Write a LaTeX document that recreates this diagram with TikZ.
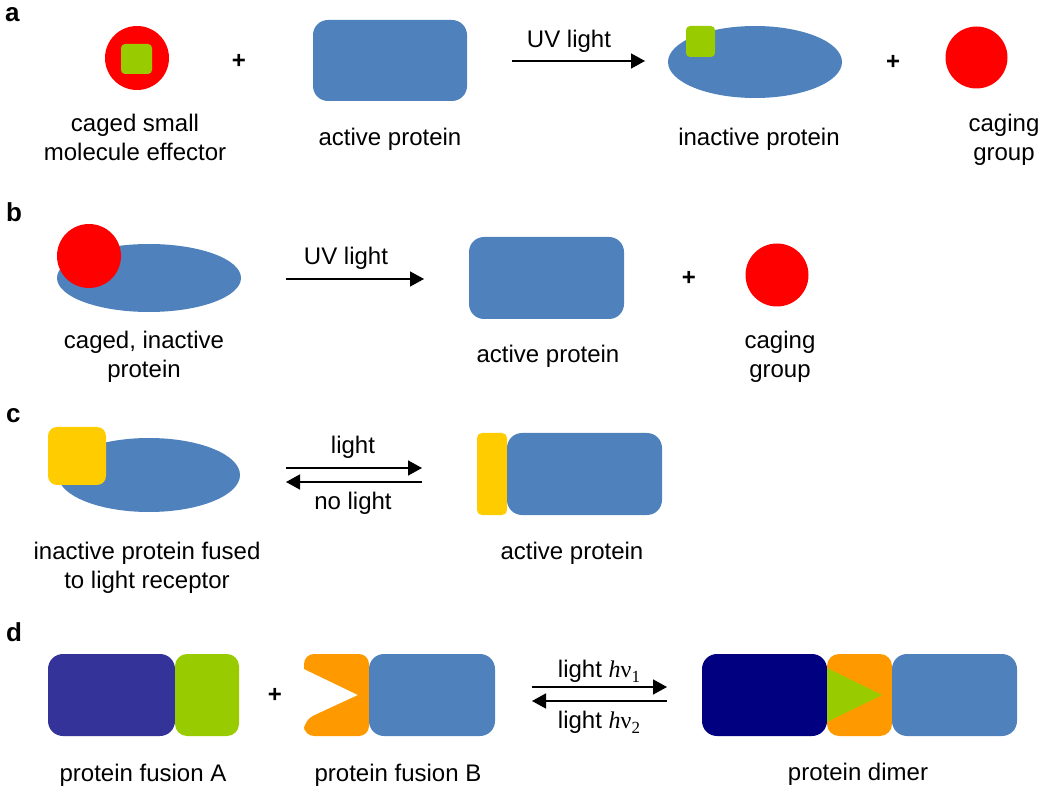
\documentclass[tikz,border=0pt]{standalone}
\usepackage{fontspec}
\setmainfont{Liberation Sans}
\newfontfamily\serifgr{Liberation Serif}
\usetikzlibrary{arrows.meta,shapes.geometric}
\definecolor{pblue}{HTML}{4F81BD}
\definecolor{cred}{HTML}{FF0000}
\definecolor{cgreen}{HTML}{99CC00}
\definecolor{cyellow}{HTML}{FFCC00}
\definecolor{corange}{HTML}{FF9900}
\definecolor{cpurple}{HTML}{333399}
\definecolor{cnavy}{HTML}{000080}
\newcommand{\hnu}[1]{{\serifgr\itshape h}{\serifgr ν}\raisebox{-5pt}{\fontsize{17}{17}\selectfont\serifgr #1}}
\begin{document}
\begin{tikzpicture}[x=1pt,y=-1pt,
  lbl/.style={font=\fontsize{24}{29}\selectfont, inner sep=0pt, align=center},
  plus/.style={font=\fontsize{24}{29}\selectfont\bfseries, inner sep=0pt},
  panel/.style={font=\fontsize{26}{30}\selectfont\bfseries, inner sep=0pt, anchor=base west},
  rbox/.style={inner sep=0pt, rounded corners=15pt},
  ell/.style={ellipse, inner sep=0pt},
  dot/.style={circle, inner sep=0pt},
  rxn/.style={line width=1.5pt, -{Triangle[length=14pt,width=15pt]}}
]
\useasboundingbox (0,0) rectangle (1050,791);

% ---------------- panel a ----------------
\node[panel] (la) at (5,22) {a};
\node[dot, fill=cred, minimum size=64pt] (a1) at (137,58) {};
\node[rbox, rounded corners=4pt, fill=cgreen, minimum width=31pt, minimum height=30pt] (a1g) at (136.5,59) {};
\node[plus] (ap1) at (239,61) {+};
\node[rbox, fill=pblue, minimum width=154pt, minimum height=81pt] (a2) at (390,60.5) {};
\coordinate (as) at (512,61);
\coordinate (ae) at (645,61);
\draw[rxn] (as) -- (ae);
\node[lbl, anchor=base] (auv) at (569,48) {UV light};
\node[ell, fill=pblue, minimum width=174pt, minimum height=72pt] (a3) at (755,62) {};
\node[rbox, rounded corners=4pt, fill=cgreen, minimum width=29pt, minimum height=31pt] (a3g) at (700.5,41.5) {};
\node[plus] (ap2) at (893,62) {+};
\node[dot, fill=cred, minimum size=62pt] (a4) at (976.5,57.5) {};
\node[lbl, anchor=north] (ta1) at (135,110.7) {\strut caged small\\molecule effector};
\node[lbl, anchor=base] (ta2) at (390,146) {active protein};
\node[lbl, anchor=base] (ta3) at (759,146) {inactive protein};
\node[lbl, anchor=north] (ta4) at (1004,110.7) {\strut caging\\group};

% ---------------- panel b ----------------
\node[panel] (lb) at (6,222) {b};
\node[ell, fill=pblue, minimum width=184pt, minimum height=68pt] (b1) at (149,278) {};
\node[dot, fill=cred, minimum size=64pt] (b1r) at (89,256) {};
\coordinate (bs) at (286,279);
\coordinate (be) at (424,279);
\draw[rxn] (bs) -- (be);
\node[lbl, anchor=base] (buv) at (346,265) {UV light};
\node[rbox, fill=pblue, minimum width=155pt, minimum height=82pt] (b2) at (546.5,278) {};
\node[plus] (bp) at (689,278) {+};
\node[dot, fill=cred, minimum size=63pt] (b3) at (777,275) {};
\node[lbl, anchor=north] (tb1) at (144,327.7) {\strut caged, inactive\\protein};
\node[lbl, anchor=base] (tb2) at (548,363) {active protein};
\node[lbl, anchor=north] (tb3) at (780,327.7) {\strut caging\\group};

% ---------------- panel c ----------------
\node[panel] (lc) at (6,423) {c};
\node[ell, fill=pblue, minimum width=182pt, minimum height=74pt] (c1) at (149,475) {};
\node[rbox, rounded corners=9pt, fill=cyellow, minimum width=58pt, minimum height=58pt] (c1y) at (77,456) {};
\coordinate (cs1) at (286,468);
\coordinate (ce1) at (422,468);
\coordinate (cs2) at (422,482);
\coordinate (ce2) at (286,482);
\draw[rxn] (cs1) -- (ce1);
\draw[rxn] (cs2) -- (ce2);
\node[lbl, anchor=base] (cl1) at (353,454) {light};
\node[lbl, anchor=base] (cl2) at (353,509) {no light};
\node[rbox, rounded corners=5pt, fill=cyellow, minimum width=30pt, minimum height=82pt] (c2y) at (492,474) {};
\node[rbox, fill=pblue, minimum width=155pt, minimum height=82pt] (c2) at (584.5,474) {};
\node[lbl, anchor=north] (tc1) at (147,538.7) {\strut inactive protein fused\\to light receptor};
\node[lbl, anchor=base] (tc2) at (572,559) {active protein};

% ---------------- panel d ----------------
\node[panel] (ld) at (6,641) {d};
\node[rbox, fill=cpurple, minimum width=127pt, minimum height=82pt] (d1) at (111.5,695) {};
\node[rbox, rounded corners=12pt, fill=cgreen, minimum width=64pt, minimum height=82pt] (d1g) at (207,695) {};
\node[plus] (dp) at (275,695) {+};
\fill[corange, rounded corners=10pt] (304,669) -- (304,654) -- (369,654) -- (369,736) -- (304,736) -- (304,720) [sharp corners] -- (358,695) -- cycle;
\node[rbox, fill=pblue, minimum width=126pt, minimum height=82pt] (d2) at (432,695) {};
\coordinate (ds1) at (532,687);
\coordinate (de1) at (667,687);
\coordinate (ds2) at (667,701);
\coordinate (de2) at (532,701);
\draw[rxn] (ds1) -- (de1);
\draw[rxn] (ds2) -- (de2);
\node[lbl, anchor=base] (dl1) at (599,677) {light \hnu{1}};
\node[lbl, anchor=base] (dl2) at (599,728) {light \hnu{2}};
\node[rbox, fill=cnavy, minimum width=125pt, minimum height=82pt] (d3) at (764.5,695) {};
\node[rbox, rounded corners=12pt, fill=corange, minimum width=65pt, minimum height=82pt] (d3o) at (859.5,695) {};
\fill[cgreen] (827,668) -- (882,695) -- (827,722) -- cycle;
\node[rbox, fill=pblue, minimum width=125pt, minimum height=82pt] (d3b) at (954.5,695) {};
\node[lbl, anchor=base] (td1) at (143,781) {protein fusion A};
\node[lbl, anchor=base] (td2) at (398,781) {protein fusion B};
\node[lbl, anchor=base] (td3) at (858,780) {protein dimer};
\end{tikzpicture}
\end{document}
